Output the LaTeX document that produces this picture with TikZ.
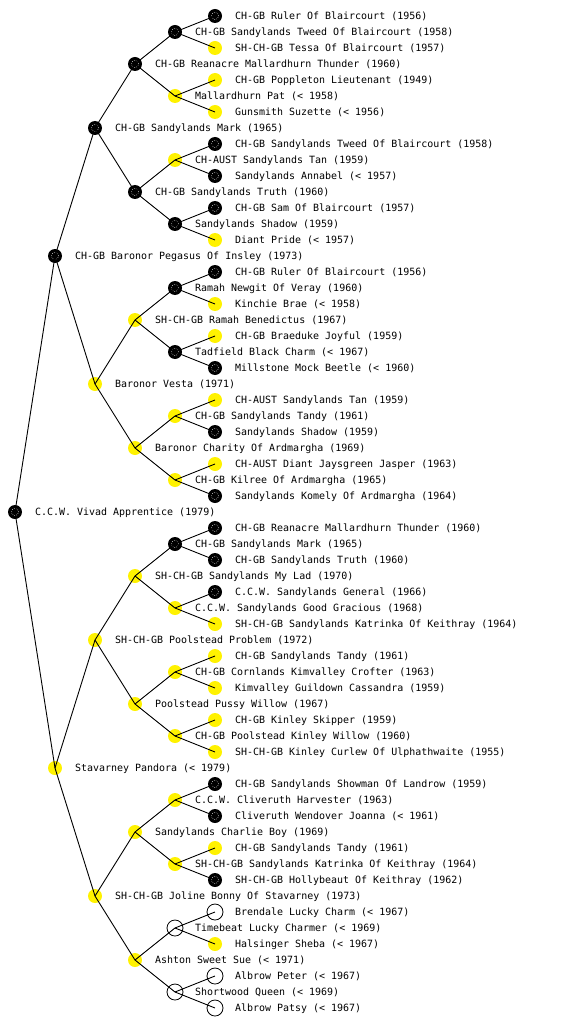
\documentclass[tikz,border=0pt]{standalone}
\usepackage{fontspec}
\setmonofont{DejaVu Sans Mono}
\begin{document}
\begin{tikzpicture}[x=1pt,y=-1pt,
  dot/.style={circle,minimum size=14pt,inner sep=0pt},
  blk/.style={dot,fill=black,path picture={\draw[white,line width=0.5pt,dash pattern=on 0.6pt off 1.4pt] (path picture bounding box.center) circle (3.6pt);}},
  ylw/.style={dot,fill=yellow},
  wht/.style={dot,minimum size=16pt,draw=black,line width=0.8pt},
  lab/.style={anchor=base west,inner sep=0pt,font=\ttfamily\fontsize{9.97}{12}\selectfont},
  edge/.style={draw=black,line width=0.9pt}]
\useasboundingbox (0,0) rectangle (560,1024);
\newcommand\pnode[5]{\node[#4] (n#1) at (#2,#3) {}; \node[lab] (t#1) at (#2+20,#3+3.5) {#5};}
% generation 0
\pnode{1}{15}{512}{blk}{C.C.W. Vivad Apprentice (1979)}
% generation 1
\pnode{2}{55}{256}{blk}{CH-GB Baronor Pegasus Of Insley (1973)}
\pnode{3}{55}{768}{ylw}{Stavarney Pandora (< 1979)}
% generation 2
\pnode{4}{95}{128}{blk}{CH-GB Sandylands Mark (1965)}
\pnode{5}{95}{384}{ylw}{Baronor Vesta (1971)}
\pnode{6}{95}{640}{ylw}{SH-CH-GB Poolstead Problem (1972)}
\pnode{7}{95}{896}{ylw}{SH-CH-GB Joline Bonny Of Stavarney (1973)}
% generation 3
\pnode{8}{135}{64}{blk}{CH-GB Reanacre Mallardhurn Thunder (1960)}
\pnode{9}{135}{192}{blk}{CH-GB Sandylands Truth (1960)}
\pnode{10}{135}{320}{ylw}{SH-CH-GB Ramah Benedictus (1967)}
\pnode{11}{135}{448}{ylw}{Baronor Charity Of Ardmargha (1969)}
\pnode{12}{135}{576}{ylw}{SH-CH-GB Sandylands My Lad (1970)}
\pnode{13}{135}{704}{ylw}{Poolstead Pussy Willow (1967)}
\pnode{14}{135}{832}{ylw}{Sandylands Charlie Boy (1969)}
\pnode{15}{135}{960}{ylw}{Ashton Sweet Sue (< 1971)}
% generation 4
\pnode{16}{175}{32}{blk}{CH-GB Sandylands Tweed Of Blaircourt (1958)}
\pnode{17}{175}{96}{ylw}{Mallardhurn Pat (< 1958)}
\pnode{18}{175}{160}{ylw}{CH-AUST Sandylands Tan (1959)}
\pnode{19}{175}{224}{blk}{Sandylands Shadow (1959)}
\pnode{20}{175}{288}{blk}{Ramah Newgit Of Veray (1960)}
\pnode{21}{175}{352}{blk}{Tadfield Black Charm (< 1967)}
\pnode{22}{175}{416}{ylw}{CH-GB Sandylands Tandy (1961)}
\pnode{23}{175}{480}{ylw}{CH-GB Kilree Of Ardmargha (1965)}
\pnode{24}{175}{544}{blk}{CH-GB Sandylands Mark (1965)}
\pnode{25}{175}{608}{ylw}{C.C.W. Sandylands Good Gracious (1968)}
\pnode{26}{175}{672}{ylw}{CH-GB Cornlands Kimvalley Crofter (1963)}
\pnode{27}{175}{736}{ylw}{CH-GB Poolstead Kinley Willow (1960)}
\pnode{28}{175}{800}{ylw}{C.C.W. Cliveruth Harvester (1963)}
\pnode{29}{175}{864}{ylw}{SH-CH-GB Sandylands Katrinka Of Keithray (1964)}
\pnode{30}{175}{928}{wht}{Timebeat Lucky Charmer (< 1969)}
\pnode{31}{175}{992}{wht}{Shortwood Queen (< 1969)}
% generation 5
\pnode{32}{215}{16}{blk}{CH-GB Ruler Of Blaircourt (1956)}
\pnode{33}{215}{48}{ylw}{SH-CH-GB Tessa Of Blaircourt (1957)}
\pnode{34}{215}{80}{ylw}{CH-GB Poppleton Lieutenant (1949)}
\pnode{35}{215}{112}{ylw}{Gunsmith Suzette (< 1956)}
\pnode{36}{215}{144}{blk}{CH-GB Sandylands Tweed Of Blaircourt (1958)}
\pnode{37}{215}{176}{blk}{Sandylands Annabel (< 1957)}
\pnode{38}{215}{208}{blk}{CH-GB Sam Of Blaircourt (1957)}
\pnode{39}{215}{240}{ylw}{Diant Pride (< 1957)}
\pnode{40}{215}{272}{blk}{CH-GB Ruler Of Blaircourt (1956)}
\pnode{41}{215}{304}{ylw}{Kinchie Brae (< 1958)}
\pnode{42}{215}{336}{ylw}{CH-GB Braeduke Joyful (1959)}
\pnode{43}{215}{368}{blk}{Millstone Mock Beetle (< 1960)}
\pnode{44}{215}{400}{ylw}{CH-AUST Sandylands Tan (1959)}
\pnode{45}{215}{432}{blk}{Sandylands Shadow (1959)}
\pnode{46}{215}{464}{ylw}{CH-AUST Diant Jaysgreen Jasper (1963)}
\pnode{47}{215}{496}{blk}{Sandylands Komely Of Ardmargha (1964)}
\pnode{48}{215}{528}{blk}{CH-GB Reanacre Mallardhurn Thunder (1960)}
\pnode{49}{215}{560}{blk}{CH-GB Sandylands Truth (1960)}
\pnode{50}{215}{592}{blk}{C.C.W. Sandylands General (1966)}
\pnode{51}{215}{624}{ylw}{SH-CH-GB Sandylands Katrinka Of Keithray (1964)}
\pnode{52}{215}{656}{ylw}{CH-GB Sandylands Tandy (1961)}
\pnode{53}{215}{688}{ylw}{Kimvalley Guildown Cassandra (1959)}
\pnode{54}{215}{720}{ylw}{CH-GB Kinley Skipper (1959)}
\pnode{55}{215}{752}{ylw}{SH-CH-GB Kinley Curlew Of Ulphathwaite (1955)}
\pnode{56}{215}{784}{blk}{CH-GB Sandylands Showman Of Landrow (1959)}
\pnode{57}{215}{816}{blk}{Cliveruth Wendover Joanna (< 1961)}
\pnode{58}{215}{848}{ylw}{CH-GB Sandylands Tandy (1961)}
\pnode{59}{215}{880}{blk}{SH-CH-GB Hollybeaut Of Keithray (1962)}
\pnode{60}{215}{912}{wht}{Brendale Lucky Charm (< 1967)}
\pnode{61}{215}{944}{ylw}{Halsinger Sheba (< 1967)}
\pnode{62}{215}{976}{wht}{Albrow Peter (< 1967)}
\pnode{63}{215}{1008}{wht}{Albrow Patsy (< 1967)}
% connectors parent -> sire / dam
\foreach \k in {1,...,31}{
  \pgfmathtruncatemacro\a{2*\k}
  \pgfmathtruncatemacro\b{2*\k+1}
  \draw[edge] (n\k.center) -- (n\a.center);
  \draw[edge] (n\k.center) -- (n\b.center);
}
\end{tikzpicture}
\end{document}
